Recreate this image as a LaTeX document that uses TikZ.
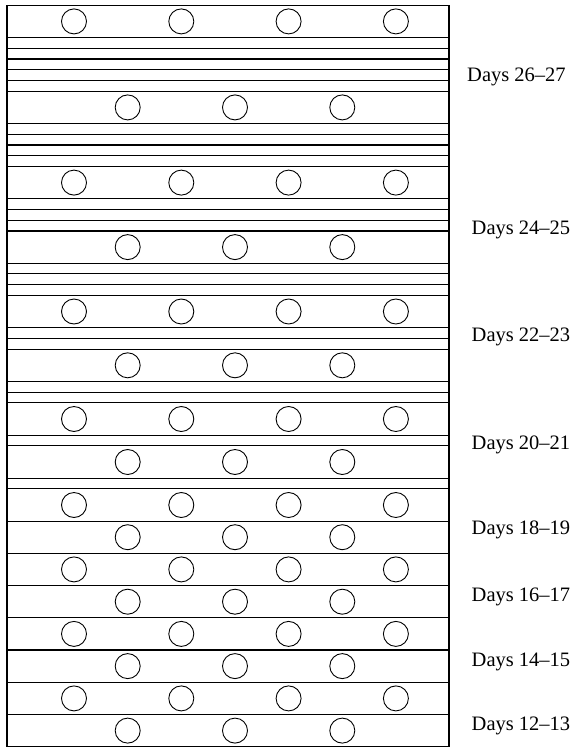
\documentclass[tikz,border=0pt]{standalone}
\usepackage{fontspec}
\setmainfont{Liberation Serif}
\begin{document}
\begin{tikzpicture}[x=1pt,y=-1pt,
  rule/.style={line width=1.1pt, black},
  hole/.style={circle, draw, line width=0.9pt, minimum size=25pt, inner sep=0pt},
  lab/.style={anchor=west, inner sep=0pt, font=\fontsize{20.5}{24}\selectfont}]
\useasboundingbox (0,0) rectangle (577,748);
% horizontal rules
\foreach \y in {37.54,48.28,59.03,69.77,80.52,91.26,123.50,134.24,144.99,155.73,166.48,
  198.71,209.46,220.20,230.95,263.18,273.93,284.67,295.42,327.65,338.40,349.14,
  381.38,392.12,402.87,435.10,445.85,478.08,488.83,521.06,553.30,585.53,617.77,
  650.00,682.24,714.47}
  \draw[rule] (7,\y) -- (449,\y);
% frame
\draw[rule] (7,5.3) rectangle (449,746.7);
% rows with four circles
\foreach \y [count=\i] in {21.4,182.6,311.5,419.0,505.0,569.4,633.9,698.4}
  \foreach \x [count=\j] in {74,181.3,288.6,395.9}
    \node[hole] (a\i-\j) at (\x,\y) {};
% rows with three circles
\foreach \y [count=\i] in {107.4,247.1,365.3,462.0,537.2,601.7,666.1,730.6}
  \foreach \x [count=\j] in {127.7,235,342.3}
    \node[hole] (b\i-\j) at (\x,\y) {};
% labels
\node[lab] (d26) at (467,77) {Days 26–27};
\node[lab] (d24) at (471.5,230) {Days 24–25};
\node[lab] (d22) at (471.5,336.7) {Days 22–23};
\node[lab] (d20) at (471.5,445) {Days 20–21};
\node[lab] (d18) at (471.5,530) {Days 18–19};
\node[lab] (d16) at (471.5,597) {Days 16–17};
\node[lab] (d14) at (471.5,662) {Days 14–15};
\node[lab] (d12) at (471.5,726) {Days 12–13};
\end{tikzpicture}
\end{document}
